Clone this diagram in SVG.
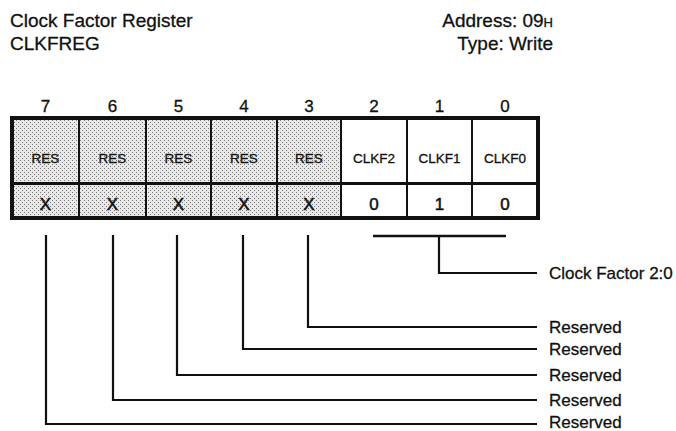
<svg xmlns="http://www.w3.org/2000/svg" width="676" height="431" viewBox="0 0 676 431">
<defs>
<pattern id="stip" width="4" height="4" patternUnits="userSpaceOnUse">
<rect width="4" height="4" fill="#e8e8e8"/>
<rect x="0" y="0" width="1" height="1" fill="#7a7a7a"/>
<rect x="2" y="2" width="1" height="1" fill="#7a7a7a"/>
</pattern>
</defs>
<style>
text{font-family:"Liberation Sans",Arial,sans-serif;fill:#111;stroke:#111;stroke-width:0.3}
.title{font-size:19px}
.num{font-size:17px;text-anchor:middle}
.name{font-size:13.5px;text-anchor:middle}
.val{font-size:17px;text-anchor:middle;stroke-width:0.5}
.lbl{font-size:17px}
.res{fill:url(#stip)}
.div{stroke:#111;stroke-width:2;fill:none}
.conn{stroke:#111;stroke-width:2.2;fill:none}
</style>
<rect width="676" height="431" fill="#ffffff"/>
<g id="header">
<text class="title" x="10" y="27">Clock Factor Register</text>
<text class="title" x="10" y="50">CLKFREG</text>
<text class="title" x="553" y="27" text-anchor="end">Address: 09<tspan font-size="13">H</tspan></text>
<text class="title" x="553" y="50" text-anchor="end">Type: Write</text>
</g>
<g id="bitnumbers">
<text class="num" x="45.5" y="112">7</text>
<text class="num" x="112.5" y="112">6</text>
<text class="num" x="178.5" y="112">5</text>
<text class="num" x="244" y="112">4</text>
<text class="num" x="309" y="112">3</text>
<text class="num" x="374" y="112">2</text>
<text class="num" x="439.5" y="112">1</text>
<text class="num" x="505" y="112">0</text>
</g>
<g id="bit7"><rect class="res" x="12" y="118" width="67" height="100"/><text class="name" x="45.5" y="163">RES</text><text class="val" x="45.5" y="210">X</text></g>
<g id="bit6"><rect class="res" x="79" y="118" width="67" height="100"/><text class="name" x="112.5" y="163">RES</text><text class="val" x="112.5" y="210">X</text></g>
<g id="bit5"><rect class="res" x="146" y="118" width="65" height="100"/><text class="name" x="178.5" y="163">RES</text><text class="val" x="178.5" y="210">X</text></g>
<g id="bit4"><rect class="res" x="211" y="118" width="66" height="100"/><text class="name" x="244" y="163">RES</text><text class="val" x="244" y="210">X</text></g>
<g id="bit3"><rect class="res" x="277" y="118" width="64" height="100"/><text class="name" x="309" y="163">RES</text><text class="val" x="309" y="210">X</text></g>
<g id="bit2"><text class="name" x="374" y="163">CLKF2</text><text class="val" x="374" y="210">0</text></g>
<g id="bit1"><text class="name" x="439.5" y="163">CLKF1</text><text class="val" x="439.5" y="210">1</text></g>
<g id="bit0"><text class="name" x="505" y="163">CLKF0</text><text class="val" x="505" y="210">0</text></g>
<g id="grid">
<line class="div" x1="79" y1="118" x2="79" y2="218"/>
<line class="div" x1="146" y1="118" x2="146" y2="218"/>
<line class="div" x1="211" y1="118" x2="211" y2="218"/>
<line class="div" x1="277" y1="118" x2="277" y2="218"/>
<line class="div" x1="341" y1="118" x2="341" y2="218"/>
<line class="div" x1="407" y1="118" x2="407" y2="218"/>
<line class="div" x1="472" y1="118" x2="472" y2="218"/>
<line x1="12" y1="183.5" x2="538" y2="183.5" stroke="#111" stroke-width="3"/>
<rect x="12" y="118" width="526" height="100" fill="none" stroke="#111" stroke-width="4"/>
</g>
<g id="connectors">
<polyline class="conn" points="308,235 308,327 537,327"/>
<polyline class="conn" points="243,235 243,349 537,349"/>
<polyline class="conn" points="177,235 177,375 537,375"/>
<polyline class="conn" points="113,235 113,400 537,400"/>
<polyline class="conn" points="46,235 46,424 537,424"/>
<line x1="373" y1="236" x2="506" y2="236" stroke="#111" stroke-width="2.5"/>
<polyline class="conn" points="439,236 439,273 537,273"/>
</g>
<g id="labels">
<text class="lbl" x="549" y="279">Clock Factor 2:0</text>
<text class="lbl" x="549" y="333">Reserved</text>
<text class="lbl" x="549" y="355">Reserved</text>
<text class="lbl" x="549" y="381">Reserved</text>
<text class="lbl" x="549" y="406">Reserved</text>
<text class="lbl" x="549" y="428">Reserved</text>
</g>
</svg>
